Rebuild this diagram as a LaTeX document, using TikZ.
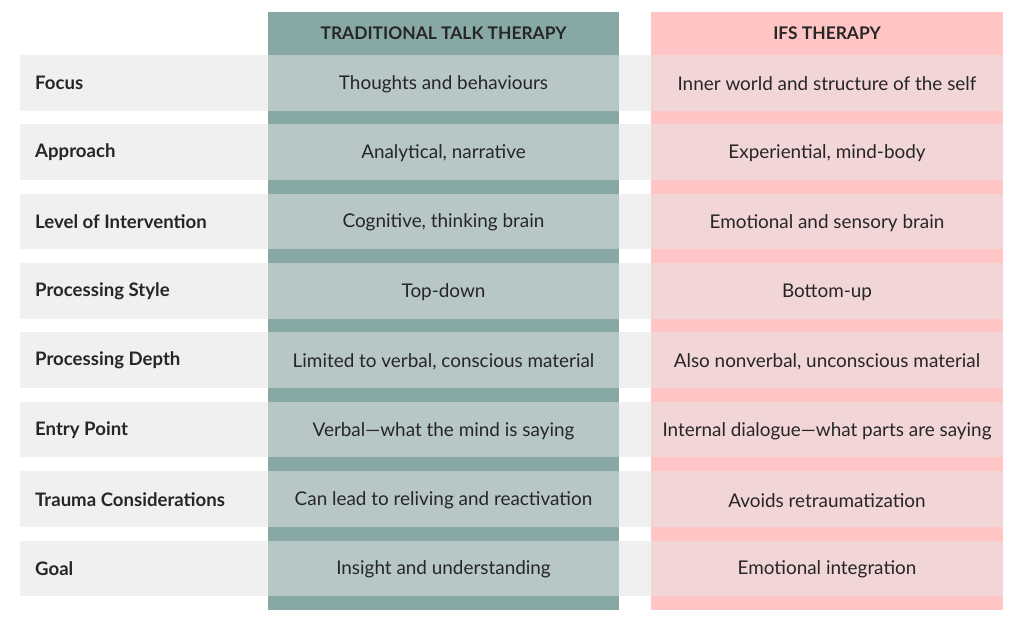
\documentclass[tikz,border=0pt]{standalone}
\usepackage{fontspec}
\setmainfont{Lato}
\definecolor{tealdark}{HTML}{87A8A5}
\definecolor{teallight}{HTML}{B7C7C5}
\definecolor{pinkdark}{HTML}{FFC5C5}
\definecolor{pinklight}{HTML}{F2D5D7}
\definecolor{rowgrey}{HTML}{F0F0F0}
\definecolor{txt}{HTML}{262626}
\begin{document}
\begin{tikzpicture}[x=1pt,y=-1pt,
  cell/.style={inner sep=0pt,outer sep=0pt,anchor=north west},
  bodytext/.style={text=txt,font=\fontsize{18.9}{22}\selectfont},
  labeltext/.style={text=txt,font=\fontsize{18.6}{22}\selectfont\bfseries,anchor=west,inner sep=0pt},
  headtext/.style={text=txt,font=\fontsize{17.4}{20}\selectfont\bfseries}]
\useasboundingbox (0,0) rectangle (1024,621);
\fill[white] (0,0) rectangle (1024,621);
% grey row bands
\foreach \i in {0,...,7}{
  \fill[rowgrey] (20,{55+69.36*\i}) rectangle (651,{110.5+69.36*\i});
}
% columns
\fill[tealdark] (268,12) rectangle (619,610);
\fill[pinkdark] (651,12) rectangle (1003,610);
\foreach \i in {0,...,7}{
  \fill[teallight] (268,{55+69.36*\i}) rectangle (619,{110.5+69.36*\i});
  \fill[pinklight] (651,{55+69.36*\i}) rectangle (1003,{110.5+69.36*\i});
}
\node[headtext] (h1) at (443.5,33) {TRADITIONAL TALK THERAPY};
\node[headtext] (h2) at (827,33) {IFS THERAPY};
\foreach \i/\lab/\a/\b in {
 0/Focus/Thoughts and behaviours/Inner world and structure of the self,
 1/Approach/{Analytical, narrative}/{Experiential, mind-body},
 2/Level of Intervention/{Cognitive, thinking brain}/Emotional and sensory brain,
 3/Processing Style/Top-down/Bottom-up,
 4/Processing Depth/{Limited to verbal, conscious material}/{Also nonverbal, unconscious material},
 5/Entry Point/{Verbal---what the mind is saying}/{Internal dialogue---what parts are saying},
 6/Trauma Considerations/Can lead to reliving and reactivation/Avoids retraumatization,
 7/Goal/Insight and understanding/Emotional integration}{
  \node[labeltext] (l\i) at (35,{83+69.36*\i}) {\lab};
  \node[bodytext] (a\i) at (443.5,{84+69.36*\i}) {\a};
  \node[bodytext] (b\i) at (827,{84+69.36*\i}) {\b};
}
\end{tikzpicture}
\end{document}
